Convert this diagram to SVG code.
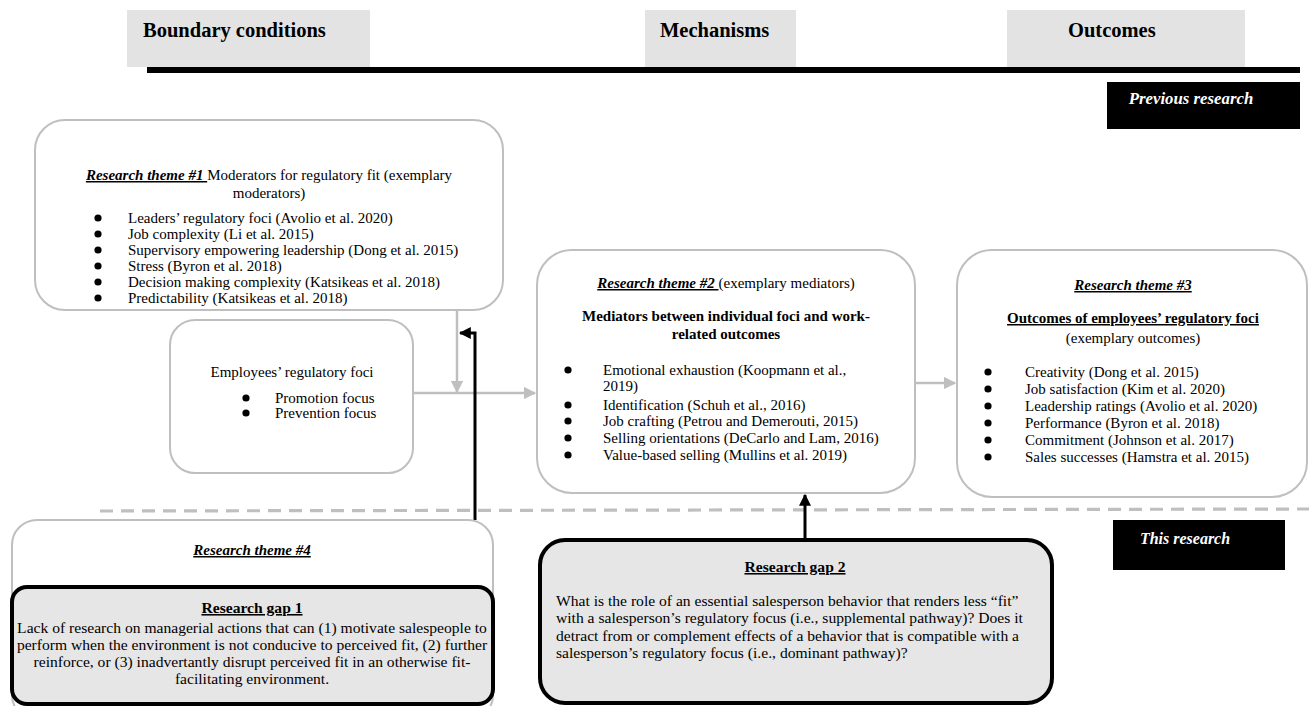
<svg xmlns="http://www.w3.org/2000/svg" width="1309" height="706" viewBox="0 0 1309 706">
<defs>
<style>
text{font-family:"Liberation Serif","Times New Roman",serif;font-size:15px;fill:#000}
.hdr{font-size:20.5px;font-weight:bold}
.box{fill:#fff;stroke:#bfbfbf;stroke-width:2}
.gapbox{fill:#e6e6e6;stroke:#000;stroke-width:4}
.gt text{font-size:15.6px}
.tag{font-weight:bold;font-style:italic;fill:#fff;font-size:16px}
.th{font-weight:bold;font-style:italic;text-decoration:underline}
.b{font-weight:bold}
.u{text-decoration:underline}
.c{text-anchor:middle}
.dot{fill:#000}
.gl{stroke:#bfbfbf;stroke-width:2.5;fill:none}
.bl{stroke:#000;stroke-width:3;fill:none}
</style>
<marker id="ga" viewBox="0 0 10 10" refX="9" refY="5" markerWidth="5" markerHeight="5" orient="auto" markerUnits="strokeWidth"><path d="M0,0L10,5L0,10z" fill="#bfbfbf"/></marker>
<marker id="ba" viewBox="0 0 10 10" refX="9" refY="5" markerWidth="4" markerHeight="4" orient="auto" markerUnits="strokeWidth"><path d="M0,0L10,5L0,10z" fill="#000"/></marker>
</defs>

<g id="header">
<rect x="127" y="10" width="243" height="57" fill="#e3e3e3"/>
<text class="hdr" x="143" y="37">Boundary conditions</text>
<rect x="645" y="10" width="151" height="57" fill="#e3e3e3"/>
<text class="hdr" x="660" y="37">Mechanisms</text>
<rect x="1007" y="10" width="238" height="57" fill="#e3e3e3"/>
<text class="hdr" x="1068" y="37">Outcomes</text>
<rect x="147" y="67" width="1153" height="6" fill="#000"/>
</g>

<g id="previous-research">
<rect x="1107" y="82" width="193" height="47" fill="#000"/>
<text class="tag c" x="1191" y="104" style="font-size:16.8px">Previous research</text>
</g>

<g id="connectors">
<line x1="100" y1="511" x2="1309" y2="509" stroke="#bfbfbf" stroke-width="3.2" stroke-dasharray="13,8"/>
<line class="gl" x1="457" y1="310" x2="457" y2="392" marker-end="url(#ga)"/>
<line class="gl" x1="413" y1="393" x2="535" y2="393" marker-end="url(#ga)"/>
<line class="gl" x1="915" y1="383" x2="955" y2="383" marker-end="url(#ga)"/>
<polyline class="bl" points="475,520 475,333 460,333" marker-end="url(#ba)"/>
<line class="bl" x1="805" y1="540" x2="805" y2="495" marker-end="url(#ba)"/>
</g>

<g id="theme1">
<rect class="box" x="35" y="120" width="468" height="190" rx="30"/>
<text class="c" x="269" y="180"><tspan class="th">Research theme #1 </tspan>Moderators for regulatory fit (exemplary</text>
<text class="c" x="269" y="198">moderators)</text>
<circle class="dot" cx="98" cy="218" r="3.6"/><text x="128" y="223">Leaders’ regulatory foci (Avolio et al. 2020)</text>
<circle class="dot" cx="98" cy="234" r="3.6"/><text x="128" y="239">Job complexity (Li et al. 2015)</text>
<circle class="dot" cx="98" cy="250" r="3.6"/><text x="128" y="255">Supervisory empowering leadership (Dong et al. 2015)</text>
<circle class="dot" cx="98" cy="266" r="3.6"/><text x="128" y="271">Stress (Byron et al. 2018)</text>
<circle class="dot" cx="98" cy="282" r="3.6"/><text x="128" y="287">Decision making complexity (Katsikeas et al. 2018)</text>
<circle class="dot" cx="98" cy="298" r="3.6"/><text x="128" y="303">Predictability (Katsikeas et al. 2018)</text>
</g>

<g id="employees">
<rect class="box" x="170" y="320" width="243" height="153" rx="25"/>
<text class="c" x="292" y="377">Employees’ regulatory foci</text>
<circle class="dot" cx="246" cy="398" r="3.6"/><text x="275" y="403">Promotion focus</text>
<circle class="dot" cx="246" cy="413" r="3.6"/><text x="275" y="418">Prevention focus</text>
</g>

<g id="theme2">
<rect class="box" x="537" y="250" width="378" height="243" rx="35"/>
<text class="c" x="726" y="288"><tspan class="th">Research theme #2 </tspan>(exemplary mediators)</text>
<text class="c b" x="726" y="321">Mediators between individual foci and work-</text>
<text class="c b" x="726" y="339">related outcomes</text>
<circle class="dot" cx="568" cy="370" r="3.6"/><text x="603" y="375">Emotional exhaustion (Koopmann et al.,</text>
<text x="603" y="391">2019)</text>
<circle class="dot" cx="568" cy="405" r="3.6"/><text x="603" y="410">Identification (Schuh et al., 2016)</text>
<circle class="dot" cx="568" cy="421" r="3.6"/><text x="603" y="426">Job crafting (Petrou and Demerouti, 2015)</text>
<circle class="dot" cx="568" cy="438" r="3.6"/><text x="603" y="443">Selling orientations (DeCarlo and Lam, 2016)</text>
<circle class="dot" cx="568" cy="455" r="3.6"/><text x="603" y="460">Value-based selling (Mullins et al. 2019)</text>
</g>

<g id="theme3">
<rect class="box" x="957" y="250" width="350" height="247" rx="35"/>
<text class="c th" x="1133" y="290">Research theme #3</text>
<text class="c b u" x="1133" y="323">Outcomes of employees’ regulatory foci</text>
<text class="c" x="1133" y="343">(exemplary outcomes)</text>
<circle class="dot" cx="988" cy="372" r="3.6"/><text x="1025" y="377">Creativity (Dong et al. 2015)</text>
<circle class="dot" cx="988" cy="389" r="3.6"/><text x="1025" y="394">Job satisfaction (Kim et al. 2020)</text>
<circle class="dot" cx="988" cy="406" r="3.6"/><text x="1025" y="411">Leadership ratings (Avolio et al. 2020)</text>
<circle class="dot" cx="988" cy="423" r="3.6"/><text x="1025" y="428">Performance (Byron et al. 2018)</text>
<circle class="dot" cx="988" cy="440" r="3.6"/><text x="1025" y="445">Commitment (Johnson et al. 2017)</text>
<circle class="dot" cx="988" cy="457" r="3.6"/><text x="1025" y="462">Sales successes (Hamstra et al. 2015)</text>
</g>

<g id="theme4">
<rect class="box" x="12" y="520" width="481" height="200" rx="25"/>
<text class="c th" x="252" y="555">Research theme #4</text>
</g>

<g id="gap1" class="gt">
<rect class="gapbox" x="12" y="587" width="481" height="117" rx="15"/>
<text class="c b u" x="252" y="613">Research gap 1</text>
<text class="c" x="252" y="633">Lack of research on managerial actions that can (1) motivate salespeople to</text>
<text class="c" x="252" y="650">perform when the environment is not conducive to perceived fit, (2) further</text>
<text class="c" x="252" y="667">reinforce, or (3) inadvertantly disrupt perceived fit in an otherwise fit-</text>
<text class="c" x="252" y="684">facilitating environment.</text>
</g>

<g id="gap2" class="gt">
<rect class="gapbox" x="540" y="540" width="512" height="163" rx="25"/>
<text class="c b u" x="795" y="572">Research gap 2</text>
<text x="556" y="606">What is the role of an essential salesperson behavior that renders less “fit”</text>
<text x="556" y="623">with a salesperson’s regulatory focus (i.e., supplemental pathway)? Does it</text>
<text x="556" y="641">detract from or complement effects of a behavior that is compatible with a</text>
<text x="556" y="658">salesperson’s regulatory focus (i.e., dominant pathway)?</text>
</g>

<g id="this-research">
<rect x="1113" y="520" width="172" height="50" fill="#000"/>
<text class="tag c" x="1185" y="544">This research</text>
</g>
</svg>
